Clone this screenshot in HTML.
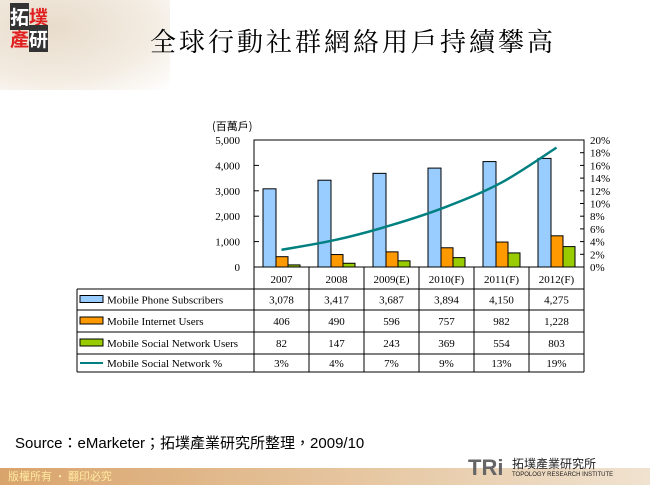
<!DOCTYPE html>
<html><head><meta charset="utf-8"><style>
body{margin:0;width:650px;height:485px;overflow:hidden;background:#fff;position:relative;font-family:"Liberation Serif","Noto Serif CJK SC",serif}
.abs{position:absolute}
</style></head><body>
<div class="abs" style="left:0;top:0;width:170px;height:90px;background:radial-gradient(ellipse at 30% 30%,#e8dccb,#f3ece2 60%,#fff 100%)"></div>
<div class="abs" style="left:10px;top:6px;width:40px;height:46px;font:bold 19px 'Noto Sans CJK TC',sans-serif;line-height:22px">
<span style="background:#333;color:#fff">拓</span><span style="color:#e02020">墣</span><br><span style="color:#e02020">產</span><span style="background:#333;color:#fff">研</span></div>
<div class="abs" style="left:150px;top:22px;font:26px 'Noto Serif CJK SC',serif;color:#000;letter-spacing:3px">全球行動社群網絡用戶持續攀高</div>
<svg class="abs" style="left:0;top:0" width="650" height="485">
<g id="g"></g>
</svg>
<div class="abs" style="left:15px;top:432px;font:15px 'Liberation Sans','Noto Sans CJK TC',sans-serif">Source：eMarketer；拓墣產業研究所整理，2009/10</div>
<div class="abs" style="left:0;top:468px;width:650px;height:17px;background:linear-gradient(90deg,#d9a46c,#e7c9a5 60%,#f0e2d0)"></div>
<div class="abs" style="left:8px;top:468px;font:11px 'Noto Sans CJK TC',sans-serif;color:#ffe9a0">版權所有 • 翻印必究</div>
<div class="abs" style="left:468px;top:455px;font:bold 22px 'Liberation Sans',sans-serif;color:#666">TRi</div>
<div class="abs" style="left:512px;top:455px;font:12px 'Noto Sans CJK TC',sans-serif;color:#222">拓墣產業研究所</div>
<div class="abs" style="left:512px;top:472px;font:6px 'Liberation Sans',sans-serif;color:#222">TOPOLOGY RESEARCH INSTITUTE</div>
<script>
const categories=["2007","2008","2009(E)","2010(F)","2011(F)","2012(F)"];
const phone=[3078,3417,3687,3894,4150,4275];
const internet=[406,490,596,757,982,1228];
const social=[82,147,243,369,554,803];
const pct=[2.7,4.3,6.6,9.5,13.3,18.8];
const phoneLbl=["3,078","3,417","3,687","3,894","4,150","4,275"];
const internetLbl=["406","490","596","757","982","1,228"];
const socialLbl=["82","147","243","369","554","803"];
const pctLbl=["3%","4%","7%","9%","13%","19%"];
const leftTicks=[0,1000,2000,3000,4000,5000];
const leftTickLbl=["0","1,000","2,000","3,000","4,000","5,000"];
const rightTicks=[0,2,4,6,8,10,12,14,16,18,20];
const NS="http://www.w3.org/2000/svg",g=document.getElementById('g');
const X0=254,X1=584,Y0=267,Y1=140,cw=(X1-X0)/categories.length;
const yL=v=>Y0-(v/5000)*(Y0-Y1), yR=v=>Y0-(v/20)*(Y0-Y1);
function el(t,a,txt){const e=document.createElementNS(NS,t);for(const k in a)e.setAttribute(k,a[k]);if(txt!==undefined)e.textContent=txt;g.appendChild(e);return e;}
let e=el('rect',{x:X0,y:Y1,width:X1-X0,height:Y0-Y1,fill:'#fff',stroke:'#000','stroke-width':1});

e=el('text',{x:212,y:130,'font-size':11,'font-family':'Noto Sans CJK TC,sans-serif'},'(百萬戶)');

leftTicks.forEach((t,i)=>{const e=el('text',{x:240,y:yL(t)+4,'font-size':11,'text-anchor':'end'},leftTickLbl[i]);

el('line',{x1:X0,x2:X0+5,y1:yL(t),y2:yL(t),stroke:'#000'});});
rightTicks.forEach(t=>{const e=el('text',{x:590,y:yR(t)+4,'font-size':11},t+'%');

el('line',{x1:X1-4,x2:X1,y1:yR(t),y2:yR(t),stroke:'#000'});});
const series=[[phone,'#99ccff',13],[internet,'#ff9900',12],[social,'#99cc00',12]];
const names=['bar-phone','bar-internet','bar-social'];
categories.forEach((c,i)=>{let x=X0+i*cw+9;series.forEach((s,j)=>{const v=s[0][i];
const e=el('rect',{x:x,y:yL(v),width:s[2],height:Y0-yL(v),fill:s[1],stroke:'#000','stroke-width':1});
x+=s[2];});});
const pts=pct.map((v,i)=>[X0+i*cw+cw/2,yR(v)]);
let d='M'+pts[0];for(let i=0;i<pts.length-1;i++){const p0=pts[Math.max(0,i-1)],p1=pts[i],p2=pts[i+1],p3=pts[Math.min(pts.length-1,i+2)];
d+=` C${p1[0]+(p2[0]-p0[0])/6},${p1[1]+(p2[1]-p0[1])/6} ${p2[0]-(p3[0]-p1[0])/6},${p2[1]-(p3[1]-p1[1])/6} ${p2[0]},${p2[1]}`;}
e=el('path',{d:d,fill:'none',stroke:'#008080','stroke-width':2.5});

const rows=[289,310,332,354,372];
el('line',{x1:X0,x2:X0,y1:Y0,y2:289,stroke:'#000'});
categories.forEach((c,i)=>{const e=el('text',{x:X0+i*cw+cw/2,y:283,'font-size':11,'text-anchor':'middle'},c);

el('line',{x1:X0+(i+1)*cw,x2:X0+(i+1)*cw,y1:Y0,y2:372,stroke:'#000'});});
rows.forEach(y=>el('line',{x1:77,x2:X1,y1:y,y2:y,stroke:'#000'}));
el('line',{x1:77,x2:77,y1:289,y2:372,stroke:'#000'});el('line',{x1:X0,x2:X0,y1:289,y2:372,stroke:'#000'});
const labs=[["Mobile Phone Subscribers",phoneLbl,'#99ccff'],["Mobile Internet Users",internetLbl,'#ff9900'],["Mobile Social Network Users",socialLbl,'#99cc00'],["Mobile Social Network %",pctLbl,null]];
labs.forEach((r,k)=>{const yc=(rows[k]+rows[k+1])/2;
if(r[2]){el('rect',{x:80,y:yc-4,width:23,height:7,fill:r[2],stroke:'#000'});}else{el('line',{x1:80,x2:103,y1:yc,y2:yc,stroke:'#008080','stroke-width':2});}
let e=el('text',{x:107,y:yc+4,'font-size':11},r[0]);
r[1].forEach((v,i)=>{const e=el('text',{x:X0+i*cw+cw/2,y:yc+4,'font-size':11,'text-anchor':'middle'},v);
});});
</script>
</body></html>
